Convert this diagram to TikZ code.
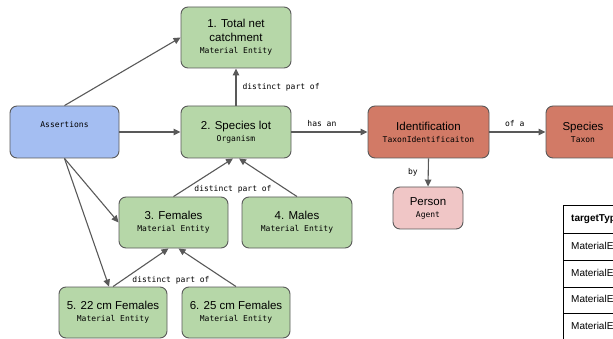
\documentclass[tikz,border=0pt]{standalone}
\usepackage{fontspec}
\newfontfamily\titlefont{Liberation Sans}
\newfontfamily\codefont{DejaVu Sans Mono}
\usepackage{tikz}
\usetikzlibrary{arrows.meta}

\definecolor{edgegray}{HTML}{595959}
\definecolor{matgreen}{HTML}{B6D7A8}
\definecolor{assertblue}{HTML}{A4BEF2}
\definecolor{idred}{HTML}{D27A66}
\definecolor{personpink}{HTML}{F0C6C6}

\newcommand{\typetag}[1]{{\codefont\fontsize{8}{10}\selectfont #1}}

\tikzset{
  box/.style={draw=edgegray, line width=0.9pt, rounded corners=7pt, align=center,
    minimum width=110pt, minimum height=52pt, inner sep=2pt,
    font=\titlefont\fontsize{11.5}{14}\selectfont},
  matbox/.style={box, fill=matgreen},
  idbox/.style={box, fill=idred},
  link/.style={draw=edgegray, line width=1.1pt, -{Triangle[length=7pt,width=6.5pt]}},
  rel/.style={font=\codefont\fontsize{8}{10}\selectfont, inner sep=1pt},
  celltext/.style={anchor=west, inner sep=0pt, font=\titlefont\fontsize{10}{12}\selectfont}
}

\begin{document}
\begin{tikzpicture}[x=1pt,y=-1pt]
        \useasboundingbox (0,0) rectangle (613,339);
        \clip (0,0) rectangle (613,339);

        % boxes
        \node[matbox, minimum height=61pt] (catch) at (236,37.5) {1. Total net\\catchment\\[-2pt]\typetag{Material Entity}};
        \node[box, fill=assertblue, minimum width=109pt] (assert) at (64.5,132) {\typetag{Assertions}\\[2pt]\phantom{A}};
        \node[matbox] (lot) at (236,132) {2. Species lot\\[-2pt]\typetag{Organism}};
        \node[idbox, minimum width=121pt] (ident) at (428.5,132) {Identification\\[-2pt]\typetag{TaxonIdentificaiton}};
        \node[idbox, minimum width=74pt] (species) at (583,132) {Species\\[-2pt]\typetag{Taxon}};
        \node[box, fill=personpink, minimum width=70pt, minimum height=42pt] (person) at (428,208) {Person\\[-2pt]\typetag{Agent}};
        \node[matbox, minimum width=109pt, minimum height=51pt] (fem) at (173.5,222.5) {3. Females\\[-2pt]\typetag{Material Entity}};
        \node[matbox, minimum width=110pt, minimum height=51pt] (male) at (297,222.5) {4. Males\\[-2pt]\typetag{Material Entity}};
        \node[matbox, minimum width=108pt, minimum height=51pt] (fem22) at (113,312.5) {5. 22 cm Females\\[-2pt]\typetag{Material Entity}};
        \node[matbox, minimum width=108pt, minimum height=51pt] (fem25) at (236,312.5) {6. 25 cm Females\\[-2pt]\typetag{Material Entity}};

        % assertions
        \draw[link] (assert.north) -- (catch.west);
        \draw[link] (assert.east) -- (lot.west);
        \draw[link] (assert.south) -- (fem.west);
        \draw[link] (assert.south) -- ([xshift=-4pt]fem22.north);

        % relations
        \draw[link] (lot.north) -- node[rel, right=5pt] (partlot) {distinct part of} (catch.south);
        \draw[link] (lot.east) -- node[rel, above=4pt, pos=0.4] (hasan) {has an} (ident.west);
        \draw[link] (ident.east) -- node[rel, above=4pt, pos=0.45] (ofa) {of a} (species.west);
        \draw[link] (ident.south) -- node[rel, left=9pt] (by) {by} (person.north);
        \draw[link] (fem.north) -- ([xshift=-3pt]lot.south);
        \draw[link] (male.north) -- ([xshift=3pt]lot.south);
        \node[rel] (partsex) at (233,189) {distinct part of};
        \draw[link] (fem22.north) -- ([xshift=-5pt]fem.south);
        \draw[link] (fem25.north) -- ([xshift=5pt]fem.south);
        \node[rel] (partsize) at (171,280) {distinct part of};

        % table
        \draw[line width=0.9pt] (563,205) rectangle (700,360);
        \foreach \y in {233,260,287,313}
            \draw[line width=0.9pt] (563,\y) -- (700,\y);
        \node[celltext, font=\titlefont\bfseries\fontsize{10}{12}\selectfont] (thead) at (571,219) {targetType};
        \foreach \y [count=\i] in {246.5,273.5,300,326.5}
            \node[celltext] (row\i) at (571,\y) {MaterialEntity};
    \end{tikzpicture}
\end{document}
